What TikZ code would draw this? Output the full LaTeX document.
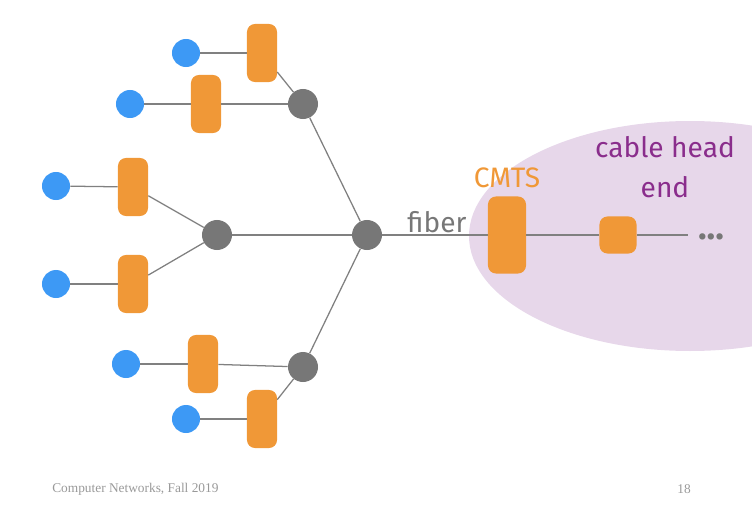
\documentclass[tikz,border=0pt]{standalone}
\usepackage{fontspec}
\setmainfont{Liberation Serif}
\newfontfamily\chalk{Fira Sans}
\definecolor{hostblue}{HTML}{3D99F5}
\definecolor{boxorange}{HTML}{F09837}
\definecolor{nodegray}{HTML}{777777}
\definecolor{linegray}{HTML}{808080}
\definecolor{headpurple}{HTML}{8A2D8C}
\definecolor{headfill}{HTML}{E7D7EA}
\tikzset{
   host/.style={circle,fill=hostblue,minimum size=0.7cm,inner sep=0pt},
   modem/.style={rectangle,rounded corners=0.2cm,fill=boxorange,minimum width=0.75cm,minimum height=1.45cm,inner sep=0pt},
   split/.style={circle,fill=nodegray,minimum size=0.75cm,inner sep=0pt},
   wire/.style={linegray,line width=0.9pt},
   lbl/.style={font=\chalk\fontsize{20}{22}\selectfont,inner sep=0pt}
}

\begin{document}
\begin{tikzpicture}[x=0.025cm,y=-0.025cm]
   \path[use as bounding box] (0,0) rectangle (752,506);
 %  head end region
   \fill[headfill] (690,236) ellipse (221 and 115);
   % hosts
   \node[host] (h1) at (186, 53) {};
   \node[host] (h2) at (130,104) {};
   \node[host] (h3) at ( 56,186) {};
   \node[host] (h4) at ( 56,284) {};
   \node[host] (h5) at (126,364) {};
   \node[host] (h6) at (186,419) {};
   % cable modems
   \node[modem] (m1) at (262, 53) {};
   \node[modem] (m2) at (206,104) {};
   \node[modem] (m3) at (133,187) {};
   \node[modem] (m4) at (133,284) {};
   \node[modem] (m5) at (203,364) {};
   \node[modem] (m6) at (262,419) {};
   % splitters
   \node[split] (s1) at (303,104) {};
   \node[split] (s2) at (217,235) {};
   \node[split] (s3) at (303,367) {};
   \node[split] (s0) at (367,235) {};
   % head end
   \node[modem,minimum width=0.95cm,minimum height=1.925cm] (cmts) at (507,235) {};
   \node[modem,minimum width=0.925cm,minimum height=0.925cm] (hub) at (618,235) {};
   \coordinate (tail) at (688,235);
   \node[lbl,text=nodegray] (dots) at (711,240) {\fontsize{20}{20}\selectfont\textbullet\kern-0.3pt\textbullet\kern-0.3pt\textbullet};
   % wires
   \draw[wire] (h1) -- (m1);
   \draw[wire] (h2) -- (m2);
   \draw[wire] (h3) -- (m3);
   \draw[wire] (h4) -- (m4);
   \draw[wire] (h5) -- (m5);
   \draw[wire] (h6) -- (m6);
   \draw[wire] (m1) -- (s1);
   \draw[wire] (m2) -- (s1);
   \draw[wire] (m3) -- (s2);
   \draw[wire] (m4) -- (s2);
   \draw[wire] (m5) -- (s3);
   \draw[wire] (m6) -- (s3);
   \draw[wire] (s1) -- (s0);
   \draw[wire] (s2) -- (s0);
   \draw[wire] (s3) -- (s0);
   \draw[wire] (s0) -- (cmts);
   \draw[wire] (cmts) -- (hub);
   \draw[wire] (hub) -- (tail);
   % labels
   \node[lbl,text=nodegray] (fib) at (437,222) {fiber};
   \node[lbl,text=boxorange] (cmtslbl) at (507,178) {CMTS};
   \node[lbl,text=headpurple] (headlbl) at (665,147) {cable head};
   \node[lbl,text=headpurple] (endlbl) at (665,187) {end};
   % footer
   \node[anchor=west,text=gray!80,font=\fontsize{9.5}{11}\selectfont,inner sep=0pt] (foot) at (52,489) {Computer Networks, Fall 2019};
   \node[text=gray!80,font=\fontsize{9.5}{11}\selectfont,inner sep=0pt] (page) at (684,489) {18};
\end{tikzpicture}
\end{document}
